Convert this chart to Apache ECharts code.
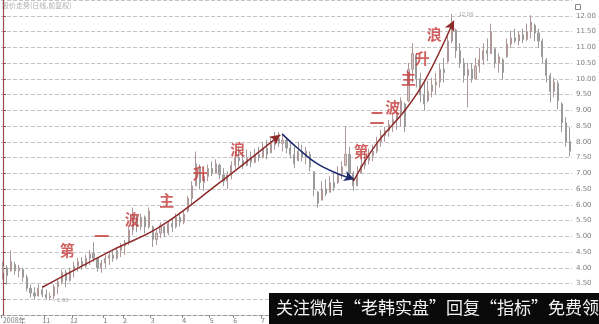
<!DOCTYPE html>
<html>
<head>
<meta charset="utf-8">
<script src="https://cdn.jsdelivr.net/npm/echarts@6/dist/echarts.min.js"></script>
<style>html,body{margin:0;padding:0;background:#fff;}#c{width:599px;height:324px;}</style>
</head>
<body>
<div id="c"></div>
<script>
// OHLC bars: [open, close, low, high]
const ohlc = [
[3.85,4.05,3.63,4.19],[4.0,3.75,3.47,4.09],[3.9,4.2,3.88,4.56],[4.1,3.9,3.78,4.19],[3.9,4.0,3.69,4.09],
[3.95,3.7,3.56,4.0],[3.7,3.35,3.25,3.78],[3.35,3.2,3.06,3.47],[3.2,3.1,3.0,3.38],[3.1,3.35,3.09,3.47],
[3.3,3.15,3.06,3.41],[3.15,3.05,3.0,3.31],[3.05,3.1,2.96,3.22],[3.1,3.4,3.0,3.47],[3.4,3.55,3.16,3.63],
[3.55,3.85,3.47,3.94],[3.85,3.6,3.38,3.94],[3.6,3.9,3.56,4.0],[3.9,4.05,3.69,4.19],[4.05,4.2,3.88,4.31],
[4.2,4.05,3.94,4.34],[4.05,4.3,4.0,4.41],[4.3,4.45,4.09,4.56],[4.45,4.3,4.19,4.81],[4.3,4.0,3.88,4.31],
[4.0,4.15,3.84,4.25],[4.15,4.3,4.0,4.41],[4.3,4.4,4.09,4.5],[4.4,4.3,4.19,4.56],[4.3,4.55,4.25,4.66],
[4.55,4.7,4.34,4.78],[4.7,4.8,4.41,4.88],[4.8,5.2,4.72,5.34],[5.2,5.7,5.03,5.91],[5.6,5.3,5.13,5.66],
[5.3,5.6,5.19,5.72],[5.6,5.3,5.09,5.66],[5.3,5.8,5.25,5.91],[5.3,4.9,4.66,5.34],[4.9,5.1,4.72,5.19],
[5.1,5.35,4.94,5.44],[5.3,5.1,4.97,5.34],[5.1,5.4,5.03,5.5],[5.4,5.3,5.13,5.56],[5.3,5.6,5.25,5.72],
[5.6,5.45,5.31,5.75],[5.45,5.7,5.38,5.81],[5.8,6.2,5.75,6.28],[6.2,6.6,5.97,6.75],[6.6,7.3,6.59,7.69],
[7.2,6.7,6.5,7.28],[6.7,6.9,6.44,7.06],[6.9,7.15,6.75,7.28],[7.15,7.0,6.91,7.38],[7.0,7.3,7.0,7.44],
[7.25,6.95,6.81,7.31],[6.95,6.75,6.59,7.16],[6.75,6.95,6.5,7.06],[6.95,7.25,6.81,7.38],[7.25,7.5,7.13,7.69],
[7.5,7.4,7.22,7.84],[7.4,7.25,7.13,7.69],[7.25,7.5,7.22,7.75],[7.5,7.35,7.19,7.69],[7.35,7.6,7.31,7.78],
[7.6,7.5,7.38,7.84],[7.5,7.8,7.47,8.0],[7.8,7.6,7.44,8.06],[7.65,7.95,7.63,8.16],[7.95,8.1,7.75,8.31],
[8.1,7.95,7.84,8.31],[7.95,8.05,7.69,8.22],[8.05,7.8,7.63,8.13],[7.8,7.6,7.47,8.0],[7.6,7.3,7.16,7.84],
[7.4,7.7,7.38,8.0],[7.7,7.5,7.38,7.91],[7.5,7.7,7.28,7.84],[7.6,7.2,7.06,7.69],[7.05,6.5,6.28,7.06],
[6.4,6.05,5.91,6.44],[6.15,6.5,6.13,6.75],[6.5,6.35,6.28,6.81],[6.4,6.7,6.38,6.91],[6.7,6.55,6.44,7.0],
[6.7,6.95,6.66,7.22],[6.95,7.2,6.81,7.38],[7.25,7.6,7.22,8.5],[7.6,7.0,6.91,7.84],[7.0,6.6,6.44,7.06],
[6.6,6.9,6.59,7.22],[7.0,7.25,7.0,7.53],[7.25,7.4,7.13,7.69],[7.4,7.55,7.28,7.78],[7.55,7.7,7.38,7.91],
[7.7,8.0,7.63,8.16],[8.0,8.2,7.84,8.38],[8.2,8.35,8.0,8.47],[8.35,8.55,8.16,8.69],[8.55,8.7,8.31,8.84],
[8.7,8.9,8.38,9.0],[8.9,9.3,8.47,9.41],[9.2,8.5,8.31,9.25],[9.3,10.3,9.25,10.5],[10.3,10.8,9.88,11.13],
[10.75,10.0,9.72,10.81],[10.0,9.5,9.25,10.19],[9.5,9.2,9.0,9.88],[9.3,9.6,9.25,9.94],[9.6,9.8,9.41,10.03],
[9.8,9.9,9.5,10.19],[9.9,10.3,9.72,10.5],[10.3,10.2,9.88,10.66],[10.55,11.2,10.5,11.44],[11.2,11.7,11.13,12.06],
[11.55,10.9,10.66,11.59],[10.9,10.5,10.34,11.13],[10.5,10.1,9.88,10.66],[10.1,10.3,9.09,10.5],[10.3,10.0,9.88,10.5],
[10.0,10.4,9.97,10.66],[10.4,10.6,10.19,10.97],[10.6,10.9,10.44,11.13],[10.9,10.8,10.56,11.28],[10.8,11.5,10.81,11.75],
[10.95,10.5,10.34,10.97],[10.5,10.7,10.19,10.81],[10.6,10.2,9.97,10.66],[10.7,11.1,10.66,11.28],[11.1,11.3,10.97,11.53],
[11.3,11.2,11.13,11.59],[11.2,11.4,11.06,11.5],[11.4,11.25,11.13,11.59],[11.25,11.5,11.19,11.75],[11.5,11.8,11.28,12.02],
[11.7,11.45,11.19,11.75],[11.45,11.2,10.97,11.59],[11.2,10.7,10.5,11.28],[10.6,10.1,9.88,10.66],[10.1,9.6,9.25,10.19],
[9.6,9.9,9.41,10.03],[9.85,9.3,9.03,9.94],[9.2,8.6,8.31,9.25],[8.6,8.0,7.84,8.78],[8.0,7.7,7.53,8.47]
];

// x-axis month labels and the bar index where each month starts
const monthLabels = ['2008年','11','12','1','2','3','4','5','6','7','8','9','10','11','12','2010年','2','3','4'];
const monthStart  = [0,11,18,26,31,38,46,53,59,66,73,80,87,93,100,107,113,120,126];

// wave annotations: characters and their [barIndex, price] anchors
const wave1Text = ['第','一','波','主','升','浪'];
const wave1Pos  = [[16.3,4.56],[25.1,5.0],[32.8,5.53],[41.6,6.13],[50.1,7.0],[59.6,7.75]];
const wave2Text = ['第','二','波','主','升','浪'];
const wave2Pos  = [[91.0,7.69],[95.0,8.78],[99.0,9.09],[103.0,10.0],[106.5,10.66],[109.5,11.41]];

// hand-drawn arrow paths, in [barIndex, price]
const arrowUp1  = [[10.0,3.38],[27.8,4.56],[39.6,5.28],[54.6,6.66],[70.4,8.22]];
const arrowDown = [[70.9,8.25],[74.7,7.81],[79.7,7.31],[84.7,7.0],[89.2,6.81]];
const arrowUp2  = [[89.0,6.75],[94.7,7.91],[102.3,9.03],[107.3,9.97],[114.5,11.84]];

// y ticks
const yMin = 2.5, yMax = 12.5, yStep = 0.5;

const N = ohlc.length;
const categories = ohlc.map((_, i) => String(i));
const startMap = {};
monthStart.forEach((s, k) => startMap[s] = monthLabels[k]);

const chart = echarts.init(document.getElementById('c'), null, {renderer: 'canvas'});

const textPoints = wave1Text.map((t, i) => ({value: wave1Pos[i], name: t}))
  .concat(wave2Text.map((t, i) => ({value: wave2Pos[i], name: t})));

function arrowSeries(id, pts, color, rot) {
  const data = pts.map((p, i) => i === pts.length - 1
    ? {value: p, symbol: 'arrow', symbolSize: [8, 10], symbolRotate: rot || 0}
    : {value: p, symbol: 'none'});
  return {
    id: id, type: 'line', xAxisIndex: 1, data: data, smooth: 0.4, silent: true,
    showSymbol: true, showAllSymbol: true, z: 4,
    lineStyle: {color: color, width: 1.5},
    itemStyle: {color: color}
  };
}

const arrows = [
  ['a1', arrowUp1, '#8e2a2a'],
  ['a2', arrowDown, '#1f2a6e'],
  ['a3', arrowUp2, '#8e2a2a']
];

chart.setOption({
  animation: false,
  backgroundColor: '#ffffff',
  grid: {left: 0, right: 20, top: -4, bottom: 8, containLabel: false},
  xAxis: [{
    type: 'category',
    data: categories,
    boundaryGap: true,
    axisLine: {show: true, lineStyle: {color: '#999', type: 'dashed', width: 1}},
    axisTick: {show: true, length: 3, lineStyle: {color: '#888'}, interval: (i) => startMap[i] !== undefined},
    axisLabel: {
      show: true, fontSize: 7, color: '#777', margin: 2, fontFamily: 'Noto Sans CJK SC',
      interval: (i) => startMap[i] !== undefined,
      formatter: (v, i) => startMap[i] || '',
      alignMinLabel: 'left'
    },
    splitLine: {show: false}
  }, {
    type: 'value', min: -0.5, max: N - 0.5, show: false
  }],
  yAxis: {
    type: 'value', position: 'right', min: yMin, max: yMax, interval: yStep,
    axisLine: {show: true, lineStyle: {color: '#9a4a4a', width: 1.2}},
    axisTick: {show: true, length: 3, lineStyle: {color: '#9a4a4a'}},
    axisLabel: {fontSize: 7, color: '#808080', margin: 4, showMinLabel: false, showMaxLabel: false,
      fontFamily: 'DejaVu Sans', formatter: (v) => v.toFixed(2)},
    splitLine: {show: true, lineStyle: {color: '#c4c4c4', type: [4, 2], width: 1}}
  },
  series: [{
    type: 'candlestick',
    data: ohlc,
    barWidth: 1.6,
    itemStyle: {color: '#d6c6c6', color0: '#a3a3a3', borderColor: '#ae9898', borderColor0: '#9a9a9a', borderWidth: 1},
    markPoint: {
      symbol: 'circle', symbolSize: 0,
      label: {show: true, position: 'right', distance: 3, fontSize: 6, color: '#aaa',
        formatter: (p) => '- ' + p.value.toFixed(2)},
      data: [{type: 'max', valueDim: 'highest'}, {type: 'min', valueDim: 'lowest'}]
    }
  }, {
    type: 'scatter',
    xAxisIndex: 1,
    data: textPoints,
    symbolSize: 0,
    z: 5,
    label: {show: true, position: 'inside', formatter: (p) => p.name, fontSize: 15,
      color: '#c43a3a', fontFamily: 'Noto Sans CJK SC', fontWeight: 'bold'}
  }].concat(arrows.map(a => arrowSeries(a[0], a[1], a[2], 0))),
  graphic: [
    {type: 'text', left: 2, top: 2, style: {text: '股价走势(日线,前复权)', fontSize: 7, fill: '#b0b0b0', fontFamily: 'Noto Sans CJK SC'}},
    {type: 'rect', left: 573, top: 2, shape: {width: 5, height: 5}, style: {fill: 'none', stroke: '#888', lineWidth: 1}},
    {type: 'rect', left: 269, top: 293, z: 100, shape: {width: 330, height: 31}, style: {fill: '#0a0a0a'}},
    {type: 'text', left: 276, top: 299, z: 101, style: {text: '关注微信“老韩实盘”回复“指标”免费领取', fontSize: 17, fill: '#f2f2f2', fontFamily: 'Noto Sans CJK SC'}}
  ]
});

// orient the arrowheads along the last segment of each path
const finder = {xAxisIndex: 1, yAxisIndex: 0};
chart.setOption({
  series: arrows.map(a => {
    const pts = a[1];
    const p1 = chart.convertToPixel(finder, pts[pts.length - 2]);
    const p2 = chart.convertToPixel(finder, pts[pts.length - 1]);
    const ang = Math.atan2(p1[1] - p2[1], p2[0] - p1[0]) * 180 / Math.PI;
    return arrowSeries(a[0], pts, a[2], ang - 90);
  })
});
</script>
</body>
</html>
